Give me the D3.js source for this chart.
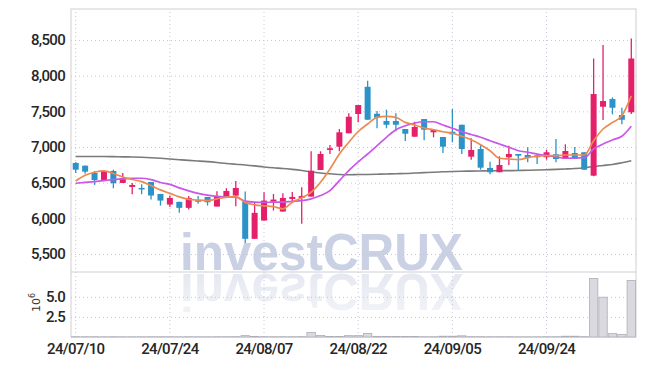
<!DOCTYPE html>
<html>
<head>
<meta charset="utf-8">
<script src="https://cdn.jsdelivr.net/npm/d3@7"></script>
<style>
  body { margin: 0; background: #fff; }
  #chart { width: 645px; height: 366px; }
  .tick text { font-family: Roboto, "DejaVu Sans Condensed", sans-serif; font-weight: 500; letter-spacing: -0.7px; fill: #262626; }
</style>
</head>
<body>
<div id="chart"></div>
<script>
// trading days (yy/mm/dd)
const dates = [
  "24/07/10","24/07/11","24/07/12","24/07/15","24/07/16","24/07/17","24/07/18","24/07/19","24/07/22","24/07/23",
  "24/07/24","24/07/25","24/07/26","24/07/29","24/07/30","24/07/31","24/08/01","24/08/02","24/08/05","24/08/06",
  "24/08/07","24/08/08","24/08/09","24/08/12","24/08/13","24/08/14","24/08/16","24/08/19","24/08/20","24/08/21",
  "24/08/22","24/08/23","24/08/26","24/08/27","24/08/28","24/08/29","24/08/30","24/09/02","24/09/03","24/09/04",
  "24/09/05","24/09/06","24/09/09","24/09/10","24/09/11","24/09/12","24/09/13","24/09/19","24/09/20","24/09/23",
  "24/09/24","24/09/25","24/09/26","24/09/27","24/09/30","24/10/02","24/10/04","24/10/07","24/10/08","24/10/10"
];
const openP = [6776,6738,6636,6538,6664,6496,6440,6426,6510,6342, 6193,6231,6147,6254,6300,6165,6300,6319,6240,5713,
  5969,6235,6095,6272,6286,6305,6678,6958,7004,7192, 7462,7844,7466,7364,7364,7252,7144,7392,7206,7140,
  7214,7312,6864,6972,6706,6646,6856,6902,6888,6884, 6856,6898,6832,6916,6926,6598,7564,7672,7448,7486];
const highP = [6790,6740,6664,6674,6682,6636,6496,6478,6510,6342, 6319,6231,6314,6314,6300,6380,6422,6524,6375,6226,
  6366,6342,6352,6370,6436,6940,6940,7028,7252,7472, 7588,7928,7504,7523,7472,7252,7354,7392,7238,7140,
  7532,7312,7122,7038,6794,6870,7018,6902,6995,6902, 6962,7112,7038,7000,6926,8240,8428,7696,7550,8520];
const lowP = [6636,6626,6468,6530,6422,6496,6338,6338,6263,6179, 6160,6077,6123,6203,6179,6165,6300,6170,5653,5713,
  5969,6110,6095,6226,5923,6305,6678,6902,6940,7192, 7346,7382,7262,7262,7220,7084,7144,7094,7136,6916,
  7066,6902,6822,6682,6618,6646,6748,6668,6786,6762, 6822,6786,6832,6832,6682,6590,7378,7458,7318,7462];
const closeP = [6682,6654,6538,6664,6492,6562,6468,6412,6320,6249, 6286,6147,6286,6235,6226,6314,6384,6426,5713,6077,
  6249,6263,6286,6300,6314,6668,6902,6982,7206,7424, 7588,7382,7410,7312,7312,7186,7280,7242,7238,7004,
  7178,6972,6958,6710,6646,6748,6902,6878,6846,6856, 6926,6832,6944,6832,6682,7742,7644,7550,7382,8240];
// volume in millions of shares
const volumeM = [0.03,0.03,0.03,0.02,0.03,0.02,0.02,0.02,0.03,0.03, 0.03,0.02,0.03,0.02,0.02,0.03,0.03,0.04,0.17,0.08,
  0.04,0.03,0.03,0.03,0.04,0.58,0.20,0.06,0.06,0.17, 0.17,0.45,0.08,0.06,0.06,0.06,0.05,0.03,0.03,0.10,
  0.10,0.15,0.04,0.04,0.03,0.03,0.03,0.02,0.02,0.02, 0.03,0.03,0.10,0.10,0.04,7.30,4.96,0.42,0.33,7.05];
// moving averages
const maShort = [6524,6604,6646,6664,6629,6580,6545,6515,6459,6399, 6350,6301,6266,6255,6249,6273,6297,6305,6224,6189,
  6175,6165,6133,6227,6287,6366,6506,6692,6902,7066, 7217,7322,7415,7429,7415,7345,7308,7266,7242,7214,
  7193,7150,7102,7032,6948,6842,6832,6822,6850,6870, 6878,6878,6888,6888,6888,7088,7252,7345,7438,7717];
const maMid = [6492,6503,6515,6529,6543,6552,6562,6562,6543,6503, 6476,6427,6385,6350,6325,6308,6301,6297,6241,6227,
  6224,6227,6227,6238,6249,6273,6319,6389,6529,6669, 6790,6902,7018,7136,7242,7298,7336,7354,7354,7308,
  7262,7214,7175,7136,7088,7042,6996,6948,6926,6902, 6881,6860,6842,6846,6850,6972,7042,7098,7150,7290];
const maLong = [6867,6867,6867,6867,6865,6862,6860,6856,6850,6842, 6832,6822,6812,6804,6795,6783,6769,6758,6748,6735,
  6720,6708,6699,6686,6671,6652,6636,6624,6615,6612, 6614,6615,6618,6622,6626,6629,6635,6641,6647,6652,
  6657,6660,6662,6664,6666,6667,6669,6671,6674,6677, 6681,6686,6692,6699,6710,6727,6741,6755,6780,6808];

const priceTicks = [5500,6000,6500,7000,7500,8000,8500];
const volumeTicks = [2.5,5.0];
const dateTicks = ["24/07/10","24/07/24","24/08/07","24/08/22","24/09/05","24/09/24"];

const W = 645, H = 366;
const plotL = 71, plotR = 636, plotT = 9, splitY = 272, plotB = 337;
const upColor = "#e5206b", downColor = "#2c93c8";

const svg = d3.select("#chart").append("svg").attr("width", W).attr("height", H);

const x = d3.scaleBand().domain(dates).range([plotL, plotR]).padding(0);
const cx = d => x(d) + x.bandwidth() / 2;
const y = d3.scaleLinear().domain([5248, 8934]).range([splitY, plotT]);
const yv = d3.scaleLinear().domain([0, 8.1]).range([plotB, splitY]);

// watermark + faded reflection
const defs = svg.append("defs");
const grad = defs.append("linearGradient").attr("id", "fade").attr("x1", 0).attr("y1", 0).attr("x2", 0).attr("y2", 1);
grad.append("stop").attr("offset", "0").attr("stop-color", "#fff").attr("stop-opacity", 1);
grad.append("stop").attr("offset", "1").attr("stop-color", "#fff").attr("stop-opacity", 0.4);
const mask = defs.append("mask").attr("id", "fadeMask").attr("maskUnits", "userSpaceOnUse")
  .attr("x", 0).attr("y", splitY + 1).attr("width", W).attr("height", 50);
mask.append("rect").attr("x", 0).attr("y", splitY + 1).attr("width", W).attr("height", 50).attr("fill", "url(#fade)");

const wmFont = sel => sel
  .attr("textLength", 283).attr("lengthAdjust", "spacingAndGlyphs")
  .style("font-family", "'Liberation Sans', Arial, sans-serif").style("font-weight", "bold").style("font-size", "52px");

const wm = svg.append("g");
wm.append("text").attr("x", 180).attr("y", 270).call(wmFont)
  .style("fill", "#cbd1e5").text("investCRUX");
wm.append("g").attr("mask", "url(#fadeMask)")
  .append("text")
  .attr("transform", "translate(0," + (2 * splitY) + ") scale(1,-1)")
  .attr("x", 180).attr("y", 270).call(wmFont)
  .style("fill", "#e5e8f1").text("investCRUX");

// grids
const gridStyle = g => g.selectAll("line").attr("stroke", "#c6c6d8").attr("stroke-dasharray", "1,3");

svg.append("g")
  .attr("transform", "translate(" + plotL + ",0)")
  .call(d3.axisLeft(y).tickValues(priceTicks).tickFormat(d3.format(",")).tickSize(-(plotR - plotL)).tickPadding(6))
  .call(g => g.select(".domain").remove())
  .call(gridStyle)
  .call(g => g.selectAll("text").style("font-size", "15px"));

svg.append("g")
  .attr("transform", "translate(" + plotL + ",0)")
  .call(d3.axisLeft(yv).tickValues(volumeTicks).tickFormat(d3.format(".1f")).tickSize(-(plotR - plotL)).tickPadding(6))
  .call(g => g.select(".domain").remove())
  .call(gridStyle)
  .call(g => g.selectAll("text").style("font-size", "15px"));

svg.append("g")
  .attr("transform", "translate(0," + plotB + ")")
  .call(d3.axisBottom(x).tickValues(dateTicks).tickSize(-(plotB - plotT)).tickPadding(6))
  .call(g => g.select(".domain").remove())
  .call(gridStyle)
  .call(g => g.selectAll("text").style("font-size", "15px"));

// 10^6 label
svg.append("text")
  .attr("transform", "translate(40,312) rotate(-90)")
  .style("font-family", "'DejaVu Sans', sans-serif").style("font-size", "11px").style("fill", "#333")
  .text("10")
  .append("tspan").attr("dy", -5).style("font-size", "8px").text("6");

// frame
const frame = svg.append("g").attr("stroke", "#cfcfd6").attr("fill", "none");
frame.append("rect").attr("x", plotL).attr("y", plotT).attr("width", plotR - plotL).attr("height", plotB - plotT);
frame.append("line").attr("x1", plotL).attr("x2", plotR).attr("y1", splitY).attr("y2", splitY);

// volume bars
svg.append("g").selectAll("rect").data(dates).join("rect")
  .attr("x", d => x(d) + 0.5)
  .attr("width", x.bandwidth() - 1)
  .attr("y", (d, i) => yv(volumeM[i]))
  .attr("height", (d, i) => plotB - yv(volumeM[i]))
  .attr("fill", "#d9d9df").attr("stroke", "#aeaeb8").attr("stroke-width", 0.8);

// moving averages
const line = arr => d3.line().x((d, i) => cx(dates[i])).y(d => y(d)).curve(d3.curveMonotoneX)(arr);
svg.append("path").attr("d", line(maLong)).attr("fill", "none").attr("stroke", "#7a7a7a").attr("stroke-width", 1.6);

// candles
const candles = svg.append("g").selectAll("g").data(dates).join("g");
candles.append("line")
  .attr("x1", d => cx(d)).attr("x2", d => cx(d))
  .attr("y1", (d, i) => y(highP[i])).attr("y2", (d, i) => y(lowP[i]))
  .attr("stroke", (d, i) => closeP[i] >= openP[i] ? upColor : downColor).attr("stroke-width", 1.3);
candles.append("rect")
  .attr("x", d => cx(d) - 3)
  .attr("width", 6)
  .attr("y", (d, i) => y(Math.max(openP[i], closeP[i])))
  .attr("height", (d, i) => Math.max(1.5, Math.abs(y(openP[i]) - y(closeP[i]))))
  .attr("fill", (d, i) => closeP[i] >= openP[i] ? upColor : downColor);

svg.append("path").attr("d", line(maMid)).attr("fill", "none").attr("stroke", "#c957e8").attr("stroke-width", 1.7);
svg.append("path").attr("d", line(maShort)).attr("fill", "none").attr("stroke", "#ee8a50").attr("stroke-width", 1.7);
</script>
</body>
</html>
